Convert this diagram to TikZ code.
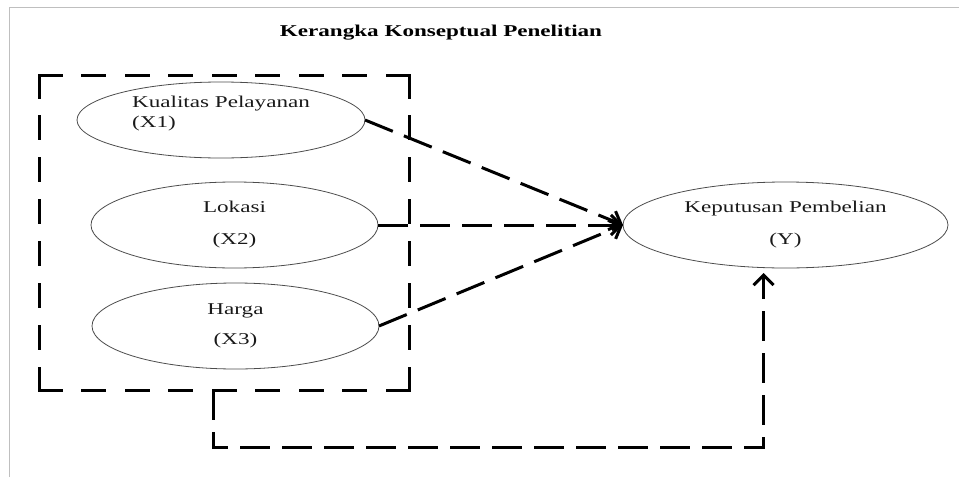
\documentclass[tikz,border=0pt]{standalone}
\usepackage{fontspec}
\setmainfont{Liberation Serif}[FakeStretch=1.4]
\usetikzlibrary{arrows.meta,shapes.geometric}

\begin{document}
\begin{tikzpicture}[x=1pt,y=-1pt,
  var/.style={ellipse,draw=black!70,line width=0.8pt,inner sep=0pt,outer sep=0pt,align=center,text=black!90,font=\fontsize{16.5}{20}\selectfont},
  side/.style={line width=3pt,line cap=rect},
  link/.style={line width=3pt,dash pattern=on 30pt off 12pt,-{Straight Barb[length=10pt,width=20pt]}}]
\useasboundingbox (0,0) rectangle (959,477);
\draw[black!25,line width=1pt] (9,477) -- (9,7) -- (959,7);
\node[font=\bfseries\fontsize{16.5}{20}\selectfont] (title) at (441,33) {Kerangka Konseptual Penelitian};
\node[minimum width=370pt,minimum height=315pt,inner sep=0pt,outer sep=0pt] (frame) at (224,232.5) {};
\draw[side,dash pattern=on 22pt off 21.5pt] (frame.north west) -- (frame.north east);
\draw[side,dash pattern=on 22pt off 21.5pt] (frame.south west) -- (frame.south east);
\draw[side,dash pattern=on 22pt off 19.9pt] (frame.north west) -- (frame.south west);
\draw[side,dash pattern=on 22pt off 19.9pt] (frame.north east) -- (frame.south east);
\node[var,align=left,minimum width=288pt,minimum height=76pt] (x1) at (221,120) {Kualitas Pelayanan\\(X1)\\[-4pt]};
\node[var,minimum width=287pt,minimum height=86pt] (x2) at (234.5,225) {Lokasi\\[12pt](X2)};
\node[var,minimum width=287pt,minimum height=86pt] (x3) at (235.5,326) {Harga\\[10pt](X3)};
\node[var,minimum width=325pt,minimum height=86pt] (y) at (785.5,225) {Keputusan Pembelian\\[12pt](Y)};
\draw[link] (x1.east) -- (y.west);
\draw[link] (x2.east) -- (y.west);
\draw[link] (x3.east) -- (y.west);
\draw[link] ([xshift=-11pt]frame.south) -- ++(0,57) -| ([xshift=-22pt,yshift=-5pt]y.south);
\end{tikzpicture}
\end{document}
